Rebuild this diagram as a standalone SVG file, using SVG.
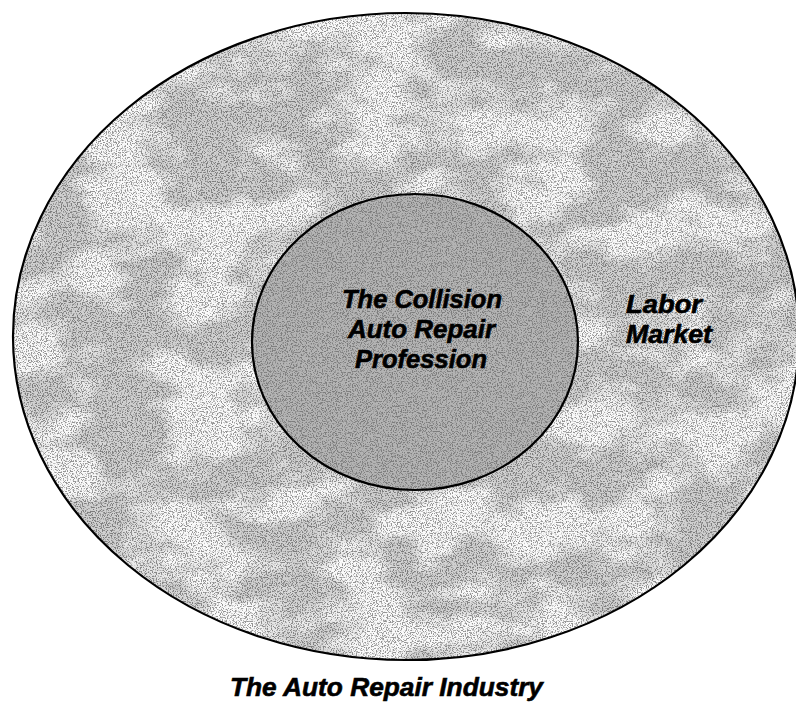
<svg xmlns="http://www.w3.org/2000/svg" width="796" height="702" viewBox="0 0 796 702">
<style>
.lbl{font-family:"Liberation Sans",Arial,sans-serif;font-weight:bold;font-style:italic;font-size:26px;fill:#000;stroke:#000;stroke-width:0.6;}
.edge{fill:none;stroke:#000;stroke-width:2.2;}
</style>
<defs>
<filter id="speck" x="0" y="0" width="100%" height="100%" filterUnits="objectBoundingBox">
<feTurbulence type="fractalNoise" baseFrequency="0.8" numOctaves="2" seed="3" result="n"/>
<feColorMatrix in="n" type="matrix" values="0 0 0 0 0  0 0 0 0 0  0 0 0 0 0  0 0 0 -6 3.1" result="dots"/>
<feComposite in="dots" in2="SourceGraphic" operator="in"/>
</filter>
<filter id="blotch" x="0" y="0" width="100%" height="100%" filterUnits="objectBoundingBox">
<feTurbulence type="fractalNoise" baseFrequency="0.012 0.02" numOctaves="3" seed="7" result="n"/>
<feColorMatrix in="n" type="matrix" values="0 0 0 0 1  0 0 0 0 1  0 0 0 0 1  0 0 0 -5 2.9" result="w"/>
<feComposite in="w" in2="SourceGraphic" operator="in"/>
</filter>
</defs>
<rect width="796" height="702" fill="#fff"/>
<g id="outer">
<ellipse cx="406" cy="336.5" rx="393" ry="323.5" fill="#d0d0d0"/>
<ellipse cx="406" cy="336.5" rx="393" ry="323.5" fill="#fff" filter="url(#blotch)" opacity="0.9"/>
<ellipse cx="406" cy="336.5" rx="393" ry="323.5" fill="#000" filter="url(#speck)" opacity="0.4"/>
<ellipse class="edge" cx="406" cy="336.5" rx="393" ry="323.5"/>
<text class="lbl" x="626" y="313" textLength="76" lengthAdjust="spacingAndGlyphs">Labor</text>
<text class="lbl" x="626" y="343" textLength="86" lengthAdjust="spacingAndGlyphs">Market</text>
</g>
<g id="inner">
<ellipse cx="415" cy="342" rx="163" ry="148" fill="#b4b4b4"/>
<ellipse cx="415" cy="342" rx="163" ry="148" fill="#000" filter="url(#speck)" opacity="0.3"/>
<ellipse class="edge" cx="415" cy="342" rx="163" ry="148"/>
<text class="lbl" x="342" y="308" textLength="160" lengthAdjust="spacingAndGlyphs">The Collision</text>
<text class="lbl" x="348" y="338" textLength="147" lengthAdjust="spacingAndGlyphs">Auto Repair</text>
<text class="lbl" x="355" y="368" textLength="132" lengthAdjust="spacingAndGlyphs">Profession</text>
</g>
<g id="connectors"/>
<g id="title">
<text class="lbl" x="230" y="696" textLength="313" lengthAdjust="spacingAndGlyphs">The Auto Repair Industry</text>
</g>
</svg>
